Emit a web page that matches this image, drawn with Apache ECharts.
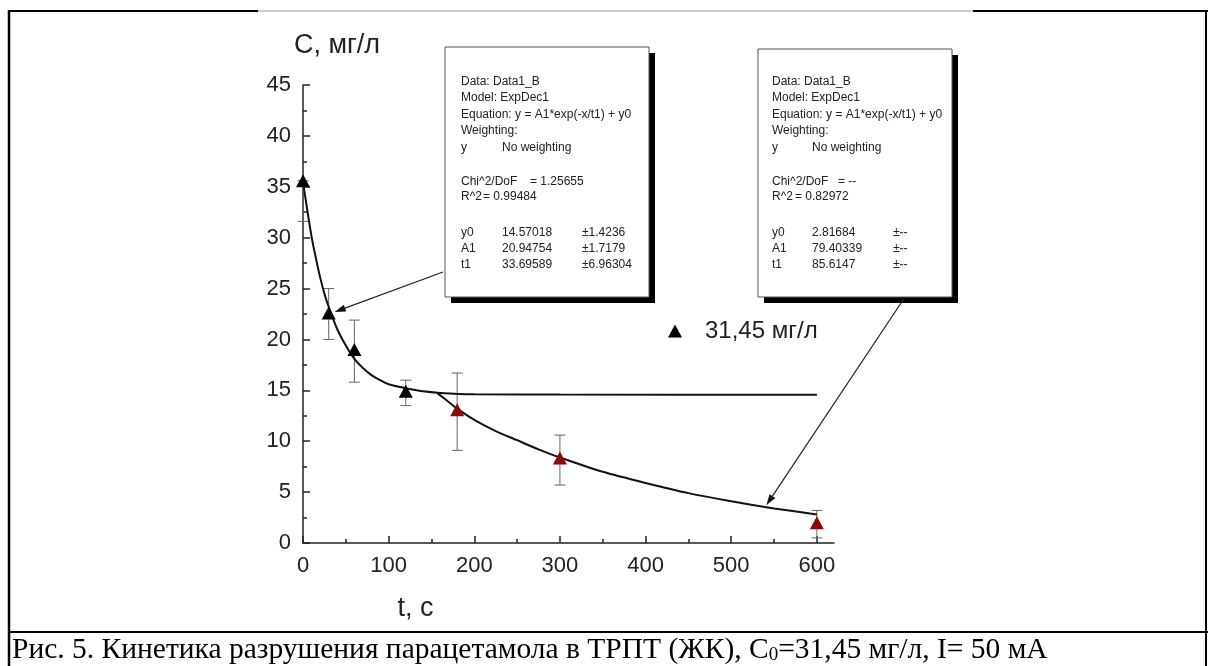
<!DOCTYPE html>
<html>
<head>
<meta charset="utf-8">
<script src="https://cdn.jsdelivr.net/npm/echarts@6/dist/echarts.min.js"></script>
<style>html,body{margin:0;background:#fff}#main{width:1208px;height:666px}</style>
</head>
<body>
<div id="main"></div>
<script>
/*
 * Рис. 5 кинетика разрушения парацетамола
 * 1. точки с погрешностями
 * 2. две кривые ExpDec1
 * 3. таблички Origin, стрелки, подпись
 * */
var tBlack = [0, 30, 60, 120];
var cBlack = [35.6, 22.6, 19.0, 14.9];
var lowBlack = [31.6, 20.0, 15.8, 13.5];
var highBlack = [35.6, 25.0, 21.9, 16.0];

var tRed = [180, 300, 600];
var cRed = [13.1, 8.35, 2.0];
var lowRed = [9.1, 5.7, 0.5];
var highRed = [16.7, 10.6, 3.2];

// кривые
var tFit1 = [0, 5, 10, 15, 20, 25, 30, 40, 50, 60, 70, 80, 90, 100, 120, 140, 160, 200, 300, 600];
var cFit1 = [35.5, 32.7, 30.1, 28.0, 26.1, 24.5, 23.2, 21.0, 19.4, 18.1, 17.2, 16.5, 16.0, 15.6, 15.2, 14.9, 14.75, 14.62, 14.58, 14.57];
var tFit2 = [157, 165, 180, 200, 225, 250, 275, 300, 350, 400, 450, 500, 550, 600];
var cFit2 = [14.7, 14.2, 13.2, 12.1, 11.0, 10.1, 9.2, 8.4, 7.0, 5.9, 4.9, 4.1, 3.4, 2.8];

var xTicks = [0, 100, 200, 300, 400, 500, 600];
var xMinor = [50, 150, 250, 350, 450, 550];
var legendName = '31,45 мг/л';

var box1Rows = [
    [['Data: Data1_B', 16]],
    [['Model: ExpDec1', 16]],
    [['Equation: y = A1*exp(-x/t1) + y0', 16]],
    [['Weighting:', 16]],
    [['y', 16], ['No weighting', 57]],
    [['Chi^2/DoF', 16], ['= 1.25655', 85]],
    [['R^2', 16], ['= 0.99484', 38]],
    [['y0', 16], ['14.57018', 57], ['±1.4236', 137]],
    [['A1', 16], ['20.94754', 57], ['±1.7179', 137]],
    [['t1', 16], ['33.69589', 57], ['±6.96304', 137]]
];
var box2Rows = [
    [['Data: Data1_B', 14]],
    [['Model: ExpDec1', 14]],
    [['Equation: y = A1*exp(-x/t1) + y0', 14]],
    [['Weighting:', 14]],
    [['y', 14], ['No weighting', 54]],
    [['Chi^2/DoF', 14], ['= --', 80]],
    [['R^2', 14], ['= 0.82972', 37]],
    [['y0', 14], ['2.81684', 54], ['±--', 135]],
    [['A1', 14], ['79.40339', 54], ['±--', 135]],
    [['t1', 14], ['85.6147', 54], ['±--', 135]]
];
var rowY = [82, 98, 115, 131, 148, 182, 197, 233, 249, 265];

function zip(a, b) {
    return a.map(function (v, i) { return [v, b[i]]; });
}
function zip3(a, b, c) {
    return a.map(function (v, i) { return [v, b[i], c[i]]; });
}

function renderErr(params, api) {
    var x = api.value(0);
    var lo = api.coord([x, api.value(1)]);
    var hi = api.coord([x, api.value(2)]);
    var w = 5.5;
    var st = {stroke: '#666', lineWidth: 1};
    return {
        type: 'group',
        children: [
            {type: 'line', shape: {x1: lo[0], y1: lo[1], x2: hi[0], y2: hi[1]}, style: st},
            {type: 'line', shape: {x1: lo[0] - w, y1: lo[1], x2: lo[0] + w, y2: lo[1]}, style: st},
            {type: 'line', shape: {x1: hi[0] - w, y1: hi[1], x2: hi[0] + w, y2: hi[1]}, style: st}
        ]
    };
}

var dom = document.getElementById('main');
var myChart = echarts.init(dom);
var font = 'Liberation Sans, Arial, sans-serif';
var option = {
    animation: false,
    grid: {left: 303, top: 85, right: 374, bottom: 123},
    legend: {
        data: [legendName],
        left: 663,
        top: 314,
        icon: 'triangle',
        itemWidth: 14,
        itemHeight: 13,
        textStyle: {fontSize: 24, fontFamily: font, color: '#222', padding: [0, 0, 0, 18]}
    },
    xAxis: [{
        type: 'value',
        min: 0,
        max: 620,
        interval: 100,
        name: 't, с',
        nameLocation: 'middle',
        nameGap: 52,
        nameTextStyle: {fontSize: 27, fontFamily: font, color: '#222', padding: [0, 306, 0, 0]},
        axisLine: {lineStyle: {color: '#222', width: 1.5}},
        axisTick: {inside: true, length: 7, customValues: xTicks, lineStyle: {color: '#222', width: 1.5}},
        axisLabel: {customValues: xTicks, fontSize: 22, fontFamily: font, color: '#222', margin: 12},
        splitLine: {show: false}
    }, {
        type: 'value',
        min: 0,
        max: 620,
        position: 'bottom',
        axisLine: {show: false},
        axisTick: {inside: true, length: 4, customValues: xMinor, lineStyle: {color: '#222', width: 1.5}},
        axisLabel: {show: false},
        splitLine: {show: false}
    }],
    yAxis: {
        type: 'value',
        min: 0,
        max: 45,
        interval: 5,
        name: 'C, мг/л',
        nameLocation: 'end',
        nameGap: 26,
        nameTextStyle: {fontSize: 27, fontFamily: font, color: '#222', padding: [0, 0, 0, 68]},
        axisLine: {show: true, lineStyle: {color: '#222', width: 1.5}},
        axisTick: {show: true, inside: true, length: 7, lineStyle: {color: '#222', width: 1.5}},
        minorTick: {show: true, splitNumber: 2, length: 4, lineStyle: {color: '#222', width: 1.5}},
        axisLabel: {fontSize: 22, fontFamily: font, color: '#222', margin: 12},
        splitLine: {show: false}
    },
    series: [
        {type: 'custom', renderItem: renderErr, data: zip3(tBlack, lowBlack, highBlack), encode: {x: 0, y: [1, 2]}, z: 1, clip: false, silent: true},
        {type: 'custom', renderItem: renderErr, data: zip3(tRed, lowRed, highRed), encode: {x: 0, y: [1, 2]}, z: 1, clip: false, silent: true},
        {type: 'line', data: zip(tFit1, cFit1), smooth: 0.2, showSymbol: false, lineStyle: {color: '#111', width: 2}, z: 2},
        {type: 'line', data: zip(tFit2, cFit2), smooth: 0.2, showSymbol: false, lineStyle: {color: '#111', width: 2}, z: 2},
        {name: legendName, type: 'scatter', data: zip(tBlack, cBlack), symbol: 'triangle', symbolSize: [14, 13], itemStyle: {color: '#000', opacity: 1}, z: 3},
        {type: 'scatter', data: zip(tRed, cRed), symbol: 'triangle', symbolSize: [14, 13], itemStyle: {color: '#8a0a0a', opacity: 1}, z: 3}
    ]
};
myChart.setOption(option);

// таблички и рамка
function makeBox(left, top, w, h, rows) {
    var els = [
        {type: 'rect', shape: {x: left + 6, y: top + 6, width: w, height: h}, style: {fill: '#000'}},
        {type: 'rect', shape: {x: left, y: top, width: w, height: h}, style: {fill: '#fff', stroke: '#555', lineWidth: 1}}
    ];
    rows.forEach(function (row, i) {
        row.forEach(function (cell) {
            els.push({type: 'text', x: left + cell[1], y: rowY[i], style: {text: cell[0], fill: '#222', font: '12px ' + font, verticalAlign: 'middle'}});
        });
    });
    return els;
}

function arrow(sx, sy, target) {
    var p = myChart.convertToPixel({xAxisIndex: 0, yAxisIndex: 0}, target);
    var dx = p[0] - sx, dy = p[1] - sy;
    var len = Math.sqrt(dx * dx + dy * dy);
    var ux = dx / len, uy = dy / len;
    var bx = p[0] - ux * 11, by = p[1] - uy * 11;
    return [
        {type: 'line', shape: {x1: sx, y1: sy, x2: bx, y2: by}, style: {stroke: '#222', lineWidth: 1.2}},
        {type: 'polygon', shape: {points: [[p[0], p[1]], [bx - uy * 3.5, by + ux * 3.5], [bx + uy * 3.5, by - ux * 3.5]]}, style: {fill: '#111'}}
    ];
}

var serif = 'Liberation Serif, Times New Roman, serif';
var frame = [
    {type: 'line', shape: {x1: 9, y1: 11, x2: 258, y2: 11}, style: {stroke: '#000', lineWidth: 2}},
    {type: 'line', shape: {x1: 258, y1: 11, x2: 973, y2: 11}, style: {stroke: '#999', lineWidth: 1}},
    {type: 'line', shape: {x1: 973, y1: 11, x2: 1208, y2: 11}, style: {stroke: '#000', lineWidth: 2}},
    {type: 'line', shape: {x1: 9, y1: 632, x2: 1208, y2: 632}, style: {stroke: '#000', lineWidth: 2}},
    {type: 'line', shape: {x1: 9, y1: 10, x2: 9, y2: 666}, style: {stroke: '#000', lineWidth: 2.5}},
    {type: 'line', shape: {x1: 1206, y1: 10, x2: 1206, y2: 666}, style: {stroke: '#000', lineWidth: 2}},
    {
        type: 'text', x: 12, y: 650,
        style: {
            text: '{a|Рис. 5. Кинетика разрушения парацетамола в ТРПТ (ЖК), C}{s|0}{a|=31,45 мг/л, I= 50 мА}',
            verticalAlign: 'middle',
            rich: {
                a: {fontSize: 29.5, fontFamily: serif, fill: '#000', verticalAlign: 'bottom'},
                s: {fontSize: 19, fontFamily: serif, fill: '#000', verticalAlign: 'bottom', padding: [10, 0, 0, 0]}
            }
        }
    }
];

var graphics = frame
    .concat(makeBox(445, 47, 204, 250, box1Rows))
    .concat(makeBox(758, 49, 194, 248, box2Rows))
    .concat(arrow(443, 272, [37, 22.7]))
    .concat(arrow(905, 297, [541, 3.7]));

myChart.setOption({graphic: {elements: graphics.map(function (g) { g.z = 10; return g; })}});
</script>
</body>
</html>
